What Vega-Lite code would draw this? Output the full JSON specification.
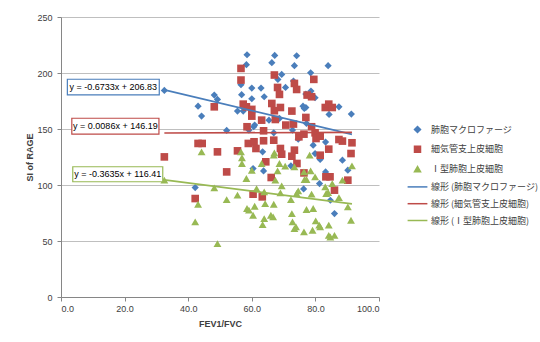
{
  "$schema": "https://vega.github.io/schema/vega-lite/v6.json",
  "width": 318,
  "height": 280,
  "autosize": {"type": "none"},
  "padding": {"left": 61, "top": 17, "right": 161, "bottom": 45},
  "background": "white",
  "config": {
    "view": {"stroke": null},
    "font": "Liberation Sans",
    "axis": {"labelFont": "Liberation Sans", "labelFontSize": 9, "labelColor": "#404040", "titleFont": "Liberation Sans", "titleFontSize": 9, "titleFontWeight": "bold", "titleColor": "#404040", "domainColor": "#868686", "tickColor": "#868686", "tickSize": 4, "gridColor": "#BFBFBF"}
  },
  "datasets": {
    "pts": [
      {"series": "肺胞マクロファージ", "x": 32.5, "y": 184.4},
      {"series": "肺胞マクロファージ", "x": 43.1, "y": 170.4},
      {"series": "肺胞マクロファージ", "x": 44.2, "y": 161.5},
      {"series": "肺胞マクロファージ", "x": 42.2, "y": 97.7},
      {"series": "肺胞マクロファージ", "x": 48.2, "y": 180.3},
      {"series": "肺胞マクロファージ", "x": 49.2, "y": 176.4},
      {"series": "肺胞マクロファージ", "x": 52.1, "y": 148.7},
      {"series": "肺胞マクロファージ", "x": 55.5, "y": 166},
      {"series": "肺胞マクロファージ", "x": 58.5, "y": 216.3},
      {"series": "肺胞マクロファージ", "x": 58.3, "y": 207.4},
      {"series": "肺胞マクロファージ", "x": 56.6, "y": 189.5},
      {"series": "肺胞マクロファージ", "x": 56.8, "y": 180.6},
      {"series": "肺胞マクロファージ", "x": 57.3, "y": 166},
      {"series": "肺胞マクロファージ", "x": 60.0, "y": 186.5},
      {"series": "肺胞マクロファージ", "x": 60.0, "y": 177},
      {"series": "肺胞マクロファージ", "x": 62.9, "y": 186.5},
      {"series": "肺胞マクロファージ", "x": 63.9, "y": 178.8},
      {"series": "肺胞マクロファージ", "x": 60.9, "y": 153.5},
      {"series": "肺胞マクロファージ", "x": 59.1, "y": 149},
      {"series": "肺胞マクロファージ", "x": 63.4, "y": 129.6},
      {"series": "肺胞マクロファージ", "x": 63.7, "y": 112.6},
      {"series": "肺胞マクロファージ", "x": 60.4, "y": 114.7},
      {"series": "肺胞マクロファージ", "x": 66.3, "y": 209.2},
      {"series": "肺胞マクロファージ", "x": 67.2, "y": 215.7},
      {"series": "肺胞マクロファージ", "x": 68.2, "y": 194.3},
      {"series": "肺胞マクロファージ", "x": 69.4, "y": 198.7},
      {"series": "肺胞マクロファージ", "x": 70.6, "y": 187.1},
      {"series": "肺胞マクロファージ", "x": 68.7, "y": 159.4},
      {"series": "肺胞マクロファージ", "x": 66.9, "y": 146.6},
      {"series": "肺胞マクロファージ", "x": 73.4, "y": 206.5},
      {"series": "肺胞マクロファージ", "x": 74.1, "y": 215.4},
      {"series": "肺胞マクロファージ", "x": 73.1, "y": 192.8},
      {"series": "肺胞マクロファージ", "x": 72.8, "y": 149},
      {"series": "肺胞マクロファージ", "x": 72.3, "y": 117.1},
      {"series": "肺胞マクロファージ", "x": 74.6, "y": 140.9},
      {"series": "肺胞マクロファージ", "x": 76.1, "y": 170.4},
      {"series": "肺胞マクロファージ", "x": 77.0, "y": 169.2},
      {"series": "肺胞マクロファージ", "x": 77.2, "y": 155},
      {"series": "肺胞マクロファージ", "x": 78.5, "y": 200.2},
      {"series": "肺胞マクロファージ", "x": 78.6, "y": 183.9},
      {"series": "肺胞マクロファージ", "x": 79.9, "y": 177.9},
      {"series": "肺胞マクロファージ", "x": 79.3, "y": 135.6},
      {"series": "肺胞マクロファージ", "x": 79.9, "y": 128.1},
      {"series": "肺胞マクロファージ", "x": 81.5, "y": 122.8},
      {"series": "肺胞マクロファージ", "x": 81.3, "y": 101.3},
      {"series": "肺胞マクロファージ", "x": 76.3, "y": 96.5},
      {"series": "肺胞マクロファージ", "x": 83.2, "y": 138.3},
      {"series": "肺胞マクロファージ", "x": 84.0, "y": 206.5},
      {"series": "肺胞マクロファージ", "x": 84.3, "y": 163},
      {"series": "肺胞マクロファージ", "x": 84.7, "y": 86.4},
      {"series": "肺胞マクロファージ", "x": 86.0, "y": 74.5},
      {"series": "肺胞マクロファージ", "x": 83.2, "y": 111.7},
      {"series": "肺胞マクロファージ", "x": 87.4, "y": 169.8},
      {"series": "肺胞マクロファージ", "x": 88.5, "y": 122.2},
      {"series": "肺胞マクロファージ", "x": 90.2, "y": 113.2},
      {"series": "肺胞マクロファージ", "x": 91.3, "y": 163.3},
      {"series": "肺胞マクロファージ", "x": 65.4, "y": 157.9},
      {"series": "肺胞マクロファージ", "x": 60.6, "y": 152},
      {"series": "肺胞マクロファージ", "x": 77.0, "y": 181.2},
      {"series": "肺胞マクロファージ", "x": 76.5, "y": 168.4},
      {"series": "細気管支上皮細胞", "x": 32.5, "y": 125.1},
      {"series": "細気管支上皮細胞", "x": 42.2, "y": 87.9},
      {"series": "細気管支上皮細胞", "x": 43.1, "y": 137.1},
      {"series": "細気管支上皮細胞", "x": 44.4, "y": 137.1},
      {"series": "細気管支上皮細胞", "x": 48.2, "y": 169.8},
      {"series": "細気管支上皮細胞", "x": 49.2, "y": 129.6},
      {"series": "細気管支上皮細胞", "x": 52.1, "y": 111.7},
      {"series": "細気管支上皮細胞", "x": 55.5, "y": 130.5},
      {"series": "細気管支上皮細胞", "x": 56.6, "y": 204.1},
      {"series": "細気管支上皮細胞", "x": 56.6, "y": 193.7},
      {"series": "細気管支上皮細胞", "x": 57.3, "y": 172.2},
      {"series": "細気管支上皮細胞", "x": 58.3, "y": 169.8},
      {"series": "細気管支上皮細胞", "x": 58.5, "y": 152},
      {"series": "細気管支上皮細胞", "x": 58.9, "y": 137.1},
      {"series": "細気管支上皮細胞", "x": 60.0, "y": 167.5},
      {"series": "細気管支上皮細胞", "x": 60.0, "y": 161.5},
      {"series": "細気管支上皮細胞", "x": 60.7, "y": 138.6},
      {"series": "細気管支上皮細胞", "x": 61.3, "y": 132.6},
      {"series": "細気管支上皮細胞", "x": 60.4, "y": 91.8},
      {"series": "細気管支上皮細胞", "x": 63.1, "y": 157.9},
      {"series": "細気管支上皮細胞", "x": 63.7, "y": 148.4},
      {"series": "細気管支上皮細胞", "x": 63.7, "y": 139.5},
      {"series": "細気管支上皮細胞", "x": 64.4, "y": 120.7},
      {"series": "細気管支上皮細胞", "x": 63.3, "y": 89.4},
      {"series": "細気管支上皮細胞", "x": 66.3, "y": 172.8},
      {"series": "細気管支上皮細胞", "x": 67.1, "y": 198.2},
      {"series": "細気管支上皮細胞", "x": 67.1, "y": 166.3},
      {"series": "細気管支上皮細胞", "x": 67.4, "y": 158.5},
      {"series": "細気管支上皮細胞", "x": 66.9, "y": 140},
      {"series": "細気管支上皮細胞", "x": 66.1, "y": 106.7},
      {"series": "細気管支上皮細胞", "x": 68.1, "y": 187.1},
      {"series": "細気管支上皮細胞", "x": 68.7, "y": 180.9},
      {"series": "細気管支上皮細胞", "x": 69.0, "y": 169.2},
      {"series": "細気管支上皮細胞", "x": 69.0, "y": 132.6},
      {"series": "細気管支上皮細胞", "x": 69.4, "y": 127.5},
      {"series": "細気管支上皮細胞", "x": 70.7, "y": 153.5},
      {"series": "細気管支上皮細胞", "x": 72.6, "y": 166},
      {"series": "細気管支上皮細胞", "x": 73.4, "y": 190.7},
      {"series": "細気管支上皮細胞", "x": 74.1, "y": 185.3},
      {"series": "細気管支上皮細胞", "x": 73.1, "y": 154.4},
      {"series": "細気管支上皮細胞", "x": 73.4, "y": 131.1},
      {"series": "細気管支上皮細胞", "x": 72.6, "y": 125.7},
      {"series": "細気管支上皮細胞", "x": 74.2, "y": 119.2},
      {"series": "細気管支上皮細胞", "x": 74.8, "y": 143},
      {"series": "細気管支上皮細胞", "x": 77.0, "y": 160.3},
      {"series": "細気管支上皮細胞", "x": 76.4, "y": 145.4},
      {"series": "細気管支上皮細胞", "x": 76.4, "y": 110.8},
      {"series": "細気管支上皮細胞", "x": 77.4, "y": 180.3},
      {"series": "細気管支上皮細胞", "x": 78.8, "y": 178.8},
      {"series": "細気管支上皮細胞", "x": 79.5, "y": 194.3},
      {"series": "細気管支上皮細胞", "x": 78.8, "y": 152},
      {"series": "細気管支上皮細胞", "x": 79.9, "y": 146.6},
      {"series": "細気管支上皮細胞", "x": 80.2, "y": 141.5},
      {"series": "細気管支上皮細胞", "x": 81.5, "y": 143.6},
      {"series": "細気管支上皮細胞", "x": 81.5, "y": 126.6},
      {"series": "細気管支上皮細胞", "x": 83.1, "y": 169.2},
      {"series": "細気管支上皮細胞", "x": 84.2, "y": 172.2},
      {"series": "細気管支上皮細胞", "x": 85.3, "y": 169.2},
      {"series": "細気管支上皮細胞", "x": 84.2, "y": 132},
      {"series": "細気管支上皮細胞", "x": 83.3, "y": 107.3},
      {"series": "細気管支上皮細胞", "x": 84.6, "y": 107.3},
      {"series": "細気管支上皮細胞", "x": 86.0, "y": 95.4},
      {"series": "細気管支上皮細胞", "x": 87.4, "y": 140.6},
      {"series": "細気管支上皮細胞", "x": 88.5, "y": 139.2},
      {"series": "細気管支上皮細胞", "x": 90.2, "y": 104.3},
      {"series": "細気管支上皮細胞", "x": 91.5, "y": 137.7},
      {"series": "細気管支上皮細胞", "x": 91.2, "y": 128.1},
      {"series": "Ⅰ型肺胞上皮細胞", "x": 32.5, "y": 104.3},
      {"series": "Ⅰ型肺胞上皮細胞", "x": 42.2, "y": 67},
      {"series": "Ⅰ型肺胞上皮細胞", "x": 43.1, "y": 82.8},
      {"series": "Ⅰ型肺胞上皮細胞", "x": 44.2, "y": 129.6},
      {"series": "Ⅰ型肺胞上皮細胞", "x": 48.2, "y": 97.4},
      {"series": "Ⅰ型肺胞上皮細胞", "x": 49.2, "y": 47.7},
      {"series": "Ⅰ型肺胞上皮細胞", "x": 52.1, "y": 87},
      {"series": "Ⅰ型肺胞上皮細胞", "x": 55.5, "y": 90.9},
      {"series": "Ⅰ型肺胞上皮細胞", "x": 56.6, "y": 129.6},
      {"series": "Ⅰ型肺胞上皮細胞", "x": 56.9, "y": 124.3},
      {"series": "Ⅰ型肺胞上皮細胞", "x": 56.9, "y": 119.2},
      {"series": "Ⅰ型肺胞上皮細胞", "x": 58.3, "y": 105.8},
      {"series": "Ⅰ型肺胞上皮細胞", "x": 58.5, "y": 79},
      {"series": "Ⅰ型肺胞上皮細胞", "x": 59.1, "y": 77.5},
      {"series": "Ⅰ型肺胞上皮細胞", "x": 60.0, "y": 113.2},
      {"series": "Ⅰ型肺胞上皮細胞", "x": 60.4, "y": 73},
      {"series": "Ⅰ型肺胞上皮細胞", "x": 60.9, "y": 81},
      {"series": "Ⅰ型肺胞上皮細胞", "x": 61.5, "y": 96.8},
      {"series": "Ⅰ型肺胞上皮細胞", "x": 63.1, "y": 119.2},
      {"series": "Ⅰ型肺胞上皮細胞", "x": 63.4, "y": 64.7},
      {"series": "Ⅰ型肺胞上皮細胞", "x": 63.9, "y": 70},
      {"series": "Ⅰ型肺胞上皮細胞", "x": 63.9, "y": 93.9},
      {"series": "Ⅰ型肺胞上皮細胞", "x": 64.2, "y": 83.4},
      {"series": "Ⅰ型肺胞上皮細胞", "x": 66.0, "y": 73},
      {"series": "Ⅰ型肺胞上皮細胞", "x": 66.7, "y": 71.5},
      {"series": "Ⅰ型肺胞上皮細胞", "x": 66.9, "y": 82.8},
      {"series": "Ⅰ型肺胞上皮細胞", "x": 66.9, "y": 126.6},
      {"series": "Ⅰ型肺胞上皮細胞", "x": 67.1, "y": 128.7},
      {"series": "Ⅰ型肺胞上皮細胞", "x": 67.4, "y": 104.3},
      {"series": "Ⅰ型肺胞上皮細胞", "x": 68.1, "y": 112.6},
      {"series": "Ⅰ型肺胞上皮細胞", "x": 68.7, "y": 119.2},
      {"series": "Ⅰ型肺胞上皮細胞", "x": 69.0, "y": 93},
      {"series": "Ⅰ型肺胞上皮細胞", "x": 69.4, "y": 99.2},
      {"series": "Ⅰ型肺胞上皮細胞", "x": 70.5, "y": 116.8},
      {"series": "Ⅰ型肺胞上皮細胞", "x": 72.3, "y": 87},
      {"series": "Ⅰ型肺胞上皮細胞", "x": 72.6, "y": 74.5},
      {"series": "Ⅰ型肺胞上皮細胞", "x": 72.8, "y": 67},
      {"series": "Ⅰ型肺胞上皮細胞", "x": 73.4, "y": 61.1},
      {"series": "Ⅰ型肺胞上皮細胞", "x": 73.9, "y": 62.6},
      {"series": "Ⅰ型肺胞上皮細胞", "x": 73.4, "y": 116.2},
      {"series": "Ⅰ型肺胞上皮細胞", "x": 74.1, "y": 92.4},
      {"series": "Ⅰ型肺胞上皮細胞", "x": 74.6, "y": 94.8},
      {"series": "Ⅰ型肺胞上皮細胞", "x": 76.4, "y": 58.1},
      {"series": "Ⅰ型肺胞上皮細胞", "x": 76.4, "y": 111.7},
      {"series": "Ⅰ型肺胞上皮細胞", "x": 76.6, "y": 104.9},
      {"series": "Ⅰ型肺胞上皮細胞", "x": 77.2, "y": 104.9},
      {"series": "Ⅰ型肺胞上皮細胞", "x": 77.2, "y": 78.1},
      {"series": "Ⅰ型肺胞上皮細胞", "x": 78.2, "y": 126.6},
      {"series": "Ⅰ型肺胞上皮細胞", "x": 78.5, "y": 112.6},
      {"series": "Ⅰ型肺胞上皮細胞", "x": 78.8, "y": 91.8},
      {"series": "Ⅰ型肺胞上皮細胞", "x": 79.3, "y": 79},
      {"series": "Ⅰ型肺胞上皮細胞", "x": 79.1, "y": 59.6},
      {"series": "Ⅰ型肺胞上皮細胞", "x": 79.9, "y": 107.3},
      {"series": "Ⅰ型肺胞上皮細胞", "x": 80.1, "y": 67.9},
      {"series": "Ⅰ型肺胞上皮細胞", "x": 81.2, "y": 64.1},
      {"series": "Ⅰ型肺胞上皮細胞", "x": 81.5, "y": 62.6},
      {"series": "Ⅰ型肺胞上皮細胞", "x": 83.1, "y": 98.3},
      {"series": "Ⅰ型肺胞上皮細胞", "x": 83.4, "y": 92.4},
      {"series": "Ⅰ型肺胞上皮細胞", "x": 84.0, "y": 93.3},
      {"series": "Ⅰ型肺胞上皮細胞", "x": 84.2, "y": 64.1},
      {"series": "Ⅰ型肺胞上皮細胞", "x": 84.2, "y": 55.1},
      {"series": "Ⅰ型肺胞上皮細胞", "x": 84.7, "y": 53.6},
      {"series": "Ⅰ型肺胞上皮細胞", "x": 85.3, "y": 101.3},
      {"series": "Ⅰ型肺胞上皮細胞", "x": 86.0, "y": 55.1},
      {"series": "Ⅰ型肺胞上皮細胞", "x": 87.4, "y": 88.8},
      {"series": "Ⅰ型肺胞上皮細胞", "x": 88.5, "y": 104.3},
      {"series": "Ⅰ型肺胞上皮細胞", "x": 90.2, "y": 80.5},
      {"series": "Ⅰ型肺胞上皮細胞", "x": 91.2, "y": 68.5},
      {"series": "Ⅰ型肺胞上皮細胞", "x": 91.5, "y": 117.1}
    ],
    "trend": [
      {"series": "線形 (肺胞マクロファージ)", "x": 32.5, "y": 184.95},
      {"series": "線形 (肺胞マクロファージ)", "x": 91.5, "y": 145.22},
      {"series": "線形 (細気管支上皮細胞)", "x": 32.5, "y": 146.47},
      {"series": "線形 (細気管支上皮細胞)", "x": 91.5, "y": 146.98},
      {"series": "線形 (Ⅰ型肺胞上皮細胞)", "x": 32.5, "y": 104.6},
      {"series": "線形 (Ⅰ型肺胞上皮細胞)", "x": 91.5, "y": 83.15}
    ],
    "eq": [
      {"series": "b", "x1": 2.0, "x2": 30.9, "y1": 180.4, "y2": 194.4, "xc": 16.45, "yc": 187.4, "label": "y = -0.6733x + 206.83"},
      {"series": "r", "x1": 3.4, "x2": 30.8, "y1": 145.5, "y2": 159.6, "xc": 17.1, "yc": 152.5, "label": "y = 0.0086x + 146.19"},
      {"series": "g", "x1": 3.7, "x2": 32.0, "y1": 102.9, "y2": 116.3, "xc": 17.85, "yc": 109.6, "label": "y = -0.3635x + 116.41"}
    ]
  },
  "encoding": {
    "x": {"type": "quantitative", "scale": {"domain": [0, 100], "nice": false}, "axis": {"title": "FEV1/FVC", "values": [0, 20, 40, 60, 80, 100], "format": ".1f", "grid": false, "labelPadding": 3, "titlePadding": 6}},
    "y": {"type": "quantitative", "scale": {"domain": [0, 250], "nice": false}, "axis": {"title": "SI of RAGE", "values": [0, 50, 100, 150, 200, 250], "format": "d", "grid": true, "labelPadding": 5, "titleX": -32, "titleY": 140, "titleAngle": 270, "titleAlign": "center", "titleBaseline": "middle"}}
  },
  "layer": [
    {
      "data": {"name": "pts"},
      "transform": [{"filter": "datum.series === '肺胞マクロファージ'"}],
      "mark": {"type": "point", "filled": true, "opacity": 1, "size": 52},
      "encoding": {
        "x": {"field": "x", "type": "quantitative"},
        "y": {"field": "y", "type": "quantitative"},
        "color": {"field": "series", "type": "nominal", "scale": {"domain": ["肺胞マクロファージ", "細気管支上皮細胞", "Ⅰ型肺胞上皮細胞", "線形 (肺胞マクロファージ)", "線形 (細気管支上皮細胞)", "線形 (Ⅰ型肺胞上皮細胞)"], "range": ["#4A7EBB", "#BE4B48", "#98B954", "#4A7EBB", "#BE4B48", "#98B954"]}, "legend": {"title": null, "orient": "none", "legendX": 352, "legendY": 108, "padding": 0, "symbolSize": 36, "symbolStrokeWidth": 1.5, "labelFont": "Noto Sans CJK JP", "labelFontSize": 9, "labelColor": "#404040", "labelOffset": 9, "rowPadding": 6.8, "encode": {"symbols": {"update": {"stroke": {"scale": "color", "field": "value"}, "opacity": {"value": 1}}}}}},
        "shape": {"field": "series", "type": "nominal", "scale": {"domain": ["肺胞マクロファージ", "細気管支上皮細胞", "Ⅰ型肺胞上皮細胞", "線形 (肺胞マクロファージ)", "線形 (細気管支上皮細胞)", "線形 (Ⅰ型肺胞上皮細胞)"], "range": ["diamond", "square", "triangle-up", "M-3.3,0H3.3", "M-3.3,0H3.3", "M-3.3,0H3.3"]}, "legend": {"title": null, "orient": "none", "legendX": 352, "legendY": 108, "padding": 0, "symbolSize": 36, "symbolStrokeWidth": 1.5, "labelFont": "Noto Sans CJK JP", "labelFontSize": 9, "labelColor": "#404040", "labelOffset": 9, "rowPadding": 6.8}}
      }
    },
    {
      "data": {"name": "pts"},
      "transform": [{"filter": "datum.series === '細気管支上皮細胞'"}],
      "mark": {"type": "point", "filled": true, "opacity": 1, "size": 58},
      "encoding": {
        "x": {"field": "x", "type": "quantitative"},
        "y": {"field": "y", "type": "quantitative"},
        "color": {"field": "series", "type": "nominal"},
        "shape": {"field": "series", "type": "nominal"}
      }
    },
    {
      "data": {"name": "pts"},
      "transform": [{"filter": "datum.series === 'Ⅰ型肺胞上皮細胞'"}],
      "mark": {"type": "point", "filled": true, "opacity": 1, "size": 62},
      "encoding": {
        "x": {"field": "x", "type": "quantitative"},
        "y": {"field": "y", "type": "quantitative"},
        "color": {"field": "series", "type": "nominal"},
        "shape": {"field": "series", "type": "nominal"}
      }
    },
    {
      "data": {"name": "trend"},
      "mark": {"type": "line", "strokeWidth": 1.6},
      "encoding": {
        "x": {"field": "x", "type": "quantitative"},
        "y": {"field": "y", "type": "quantitative"},
        "color": {"field": "series", "type": "nominal", "legend": null},
        "detail": {"field": "series"}
      }
    },
    {
      "data": {"name": "eq"},
      "mark": {"type": "rect", "fill": "white", "strokeWidth": 1.2},
      "encoding": {
        "x": {"field": "x1", "type": "quantitative"},
        "x2": {"field": "x2"},
        "y": {"field": "y1", "type": "quantitative"},
        "y2": {"field": "y2"},
        "stroke": {"field": "series", "type": "nominal", "scale": {"domain": ["b", "r", "g"], "range": ["#4A7EBB", "#BE4B48", "#98B954"]}, "legend": null}
      }
    },
    {
      "data": {"name": "eq"},
      "mark": {"type": "text", "font": "Liberation Sans", "fontSize": 9, "color": "#000000", "align": "center", "baseline": "middle"},
      "encoding": {
        "x": {"field": "xc", "type": "quantitative"},
        "y": {"field": "yc", "type": "quantitative"},
        "text": {"field": "label"}
      }
    }
  ]
}
